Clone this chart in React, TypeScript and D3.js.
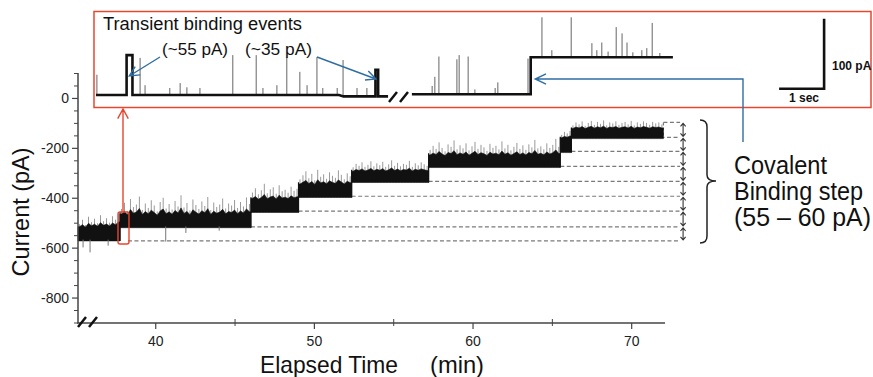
import * as d3 from "d3";

// main trace: current steps (min, pA)
const stepStart = [35.1, 37.75, 46.0, 49.0, 52.35, 57.2, 65.5, 66.2];
const stepEnd = [37.75, 46.0, 49.0, 52.35, 57.2, 65.5, 66.2, 72.0];
const stepBase = [-566, -513, -452, -392, -332, -272, -212, -156];
const stepCore = [60, 58, 56, 56, 46, 52, 58, 40];
const stepPeaks = [
  [62, 80, 58, 92, 70, 84, 66, 98, 74, 86, 68, 94, 80, 104],
  [70, 95, 62, 110, 78, 88, 120, 66, 92, 74, 105, 84, 60, 98, 115, 72, 90, 68, 102, 80, 125, 76, 94, 64, 108, 86, 70, 100, 82, 118, 66, 96, 78, 88, 112, 72, 92, 84, 106, 74, 98, 80, 116, 90],
  [75, 92, 68, 84, 110, 72, 88, 96, 70, 104, 80, 86, 74, 98, 82, 90],
  [68, 84, 100, 72, 90, 64, 106, 78, 88, 70, 96, 82, 74, 104, 86, 68, 92, 80],
  [56, 70, 62, 76, 58, 66, 80, 60, 72, 64, 78, 58, 68, 84, 62, 74, 60, 70, 66, 82, 58, 72, 64, 76, 68, 62],
  [66, 82, 70, 96, 74, 60, 88, 78, 104, 68, 84, 72, 92, 64, 80, 98, 70, 86, 76, 62, 90, 74, 82, 68, 100, 72, 86, 64, 78, 94, 70, 84, 66, 88, 76, 106, 72, 80, 68, 92, 74, 86, 110, 78],
  [66, 78, 72, 82],
  [48, 60, 52, 64, 46, 58, 66, 50, 62, 54, 68, 48, 60, 56, 64, 50, 58, 62, 52, 66, 48, 60, 54, 64, 58, 50, 62, 56, 60, 52],
];
const dips: [number, number][] = [[35.42, -597], [35.86, -617], [37.0, -590], [40.63, -574], [41.9, -539], [44.0, -530]];

// dashed guide levels
const guideLevels = [-571, -515, -452, -392, -332, -272, -212, -156, -96];
const guideStart = [38.25, 46.0, 49.0, 52.35, 57.2, 65.5, 66.2, 69.77, 72.0];
const guideEnd = 73.05;
const arrowTime = 73.24;

const xTicks = [40, 50, 60, 70];
const xMinor = [45, 55, 65];
const yTicks = [0, -200, -400, -600, -800];
const yMinor = [100, 50, -50, -100, -150, -250, -300, -350, -450, -500, -550, -650, -700, -750, -850, -900];

// inset (s, pA relative to open level)
const insetTraceA: [number, number][] = [[0, 0], [0.68, 0], [0.68, 57], [0.81, 57], [0.81, 0], [5.4, 0], [5.5, -2], [6.21, -2], [6.21, 36], [6.27, 36], [6.27, -2], [6.49, -2]];
const insetTraceB: [number, number][] = [[7.02, 1], [9.66, 1], [9.66, 54], [12.82, 54]];
const insetSpikesA: [number, number][] = [[0.02, 29], [0.98, 53], [1.09, 14], [1.64, 10], [1.87, 17], [2.02, 11], [2.31, 10], [3.04, 57], [3.56, 57], [3.71, 10], [4.02, 14], [4.24, 54], [4.53, 33], [4.69, 14], [4.91, 54], [5.04, 10], [5.36, 10], [5.49, 50], [5.8, 10], [6.02, 10]];
const insetSpikesB: [number, number][] = [[7.47, 12], [7.53, 25], [7.62, 54], [8.02, 50], [8.07, 56], [8.27, 54], [8.42, 7], [8.87, 9], [8.93, 17], [9.6, 51]];
const insetSpikesC: [number, number][] = [[9.91, 57], [10.13, 10], [10.56, 57], [11.02, 20], [11.13, 10], [11.24, 21], [11.38, 8], [11.56, 43], [11.69, 34], [11.8, 21], [11.93, 7], [12.13, 10], [12.24, 13], [12.36, 49], [12.53, 6]];

const W = 873;
const H = 377;
const FONT = "'Liberation Sans', Arial, sans-serif";
const RED = "#e8472f";
const BLUE = "#2f6ea3";

function openHead(x: number, y: number, angle: number, len: number, spread: number) {
  const a1 = angle + Math.PI - spread;
  const a2 = angle + Math.PI + spread;
  return `M${x + len * Math.cos(a1)},${y + len * Math.sin(a1)}L${x},${y}L${x + len * Math.cos(a2)},${y + len * Math.sin(a2)}`;
}

function arrowPath(x1: number, y1: number, x2: number, y2: number, len = 10, spread = 0.45) {
  const ang = Math.atan2(y2 - y1, x2 - x1);
  return `M${x1},${y1}L${x2},${y2}` + openHead(x2, y2, ang, len, spread);
}

export default function App() {
  const x = d3.scaleLinear().domain([35.1, 72.1]).range([78, 665]);
  const y = d3.scaleLinear().domain([102, -900]).range([73, 323]);
  const xi = d3.scaleLinear().domain([0, 1]).range([96, 141]);
  const yi = d3.scaleLinear().domain([0, 100]).range([95, 25]);

  const segs = stepStart.map((s, k) => {
    const peaks = stepPeaks[k];
    const n = peaks.length;
    const dt = (stepEnd[k] - s) / n;
    const mean = d3.mean(peaks) as number;
    const pts = peaks.map((p, i) => ({
      tm: s + (i + 0.5) * dt,
      peak: stepBase[k] + p,
      top: stepBase[k] + stepCore[k] + (p - mean) * 0.45,
    }));
    const area = d3
      .area<{ t: number; v: number }>()
      .x((d) => x(d.t))
      .y0(y(stepBase[k] - 5))
      .y1((d) => y(d.v));
    const areaPts = [{ t: s, v: pts[0].top }, ...pts.map((p) => ({ t: p.tm, v: p.top })), { t: stepEnd[k], v: pts[n - 1].top }];
    return { k, pts, d: area(areaPts) as string };
  });

  const insetLine = d3
    .line<[number, number]>()
    .x((d) => xi(d[0]))
    .y((d) => yi(d[1]));

  const spikeLines = (sp: [number, number][], base: number) =>
    sp.map((s, i) => (
      <line key={i} x1={xi(s[0])} x2={xi(s[0])} y1={yi(base)} y2={yi(base + s[1])} stroke="#555" strokeWidth={0.9} />
    ));

  const tickText = { fontFamily: FONT, fontSize: 14, fill: "#222" } as const;

  return (
    <svg width={W} height={H} style={{ position: "absolute", left: 0, top: 0, background: "#fff" }}>
      <rect width={W} height={H} fill="#fff" />

      {/* dashed guides */}
      {guideLevels.map((lv, i) => (
        <line key={i} x1={x(guideStart[i])} x2={x(guideEnd)} y1={y(lv)} y2={y(lv)} stroke="#7a7a7a" strokeWidth={1.2} strokeDasharray="4,2.5" />
      ))}
      <line x1={x(guideStart[8])} x2={x(guideStart[8])} y1={y(guideLevels[8])} y2={y(guideLevels[7])} stroke="#7a7a7a" strokeWidth={1.2} strokeDasharray="3,2" />
      {guideLevels.slice(1).map((lv, i) => {
        const yt = y(lv) + 1;
        const yb = y(guideLevels[i]) - 1;
        const xa = x(arrowTime);
        return (
          <path key={i} d={`M${xa},${yt}L${xa},${yb}` + openHead(xa, yt, -Math.PI / 2, 4, 0.7) + openHead(xa, yb, Math.PI / 2, 4, 0.7)} fill="none" stroke="#333" strokeWidth={1.1} />
        );
      })}

      {/* main trace */}
      {segs.map((sg) => (
        <g key={sg.k}>
          {sg.pts.map((p, i) => (
            <line key={i} x1={x(p.tm)} x2={x(p.tm)} y1={y(stepBase[sg.k])} y2={y(p.peak)} stroke="#999" strokeWidth={1} />
          ))}
          <path d={sg.d} fill="#111" stroke="#111" strokeWidth={0.6} />
        </g>
      ))}
      {stepStart.slice(1).map((t, i) => (
        <line key={i} x1={x(t)} x2={x(t)} y1={y(stepBase[i] - 5)} y2={y(stepBase[i + 1] + stepCore[i + 1])} stroke="#111" strokeWidth={1.2} />
      ))}
      {dips.map((d, i) => {
        const k = stepStart.findIndex((s, j) => d[0] >= s && d[0] < stepEnd[j]);
        return <line key={i} x1={x(d[0])} x2={x(d[0])} y1={y(stepBase[k])} y2={y(d[1])} stroke="#777" strokeWidth={1} />;
      })}

      {/* axes */}
      <line x1={78} x2={78} y1={y(102)} y2={y(-900)} stroke="#444" strokeWidth={1.5} />
      <line x1={77} x2={x(72.1)} y1={y(-900)} y2={y(-900)} stroke="#444" strokeWidth={1.5} />
      {yTicks.map((v) => (
        <g key={v}>
          <line x1={72} x2={78} y1={y(v)} y2={y(v)} stroke="#444" strokeWidth={1.2} />
          <text x={69} y={y(v)} dy="0.35em" textAnchor="end" {...tickText}>
            {v}
          </text>
        </g>
      ))}
      {yMinor.map((v) => (
        <line key={v} x1={74} x2={78} y1={y(v)} y2={y(v)} stroke="#444" strokeWidth={1} />
      ))}
      {xTicks.map((v) => (
        <g key={v}>
          <line x1={x(v)} x2={x(v)} y1={y(-900)} y2={y(-900) + 6} stroke="#444" strokeWidth={1.2} />
          <text x={x(v)} y={346} textAnchor="middle" {...tickText}>
            {v}
          </text>
        </g>
      ))}
      {xMinor.map((v) => (
        <line key={v} x1={x(v)} x2={x(v)} y1={y(-900) - 4} y2={y(-900) + 3} stroke="#444" strokeWidth={1} />
      ))}
      <path d="M78,327L86,317M89,327L97,317" stroke="#111" strokeWidth={2.5} fill="none" />

      <text x={0} y={0} transform="translate(29,212) rotate(-90)" textAnchor="middle" fontFamily={FONT} fontSize={24} fill="#111" textLength={129} lengthAdjust="spacingAndGlyphs">
        Current (pA)
      </text>
      <text x={260} y={373} fontFamily={FONT} fontSize={24} fill="#111" textLength={138} lengthAdjust="spacingAndGlyphs">
        Elapsed Time
      </text>
      <text x={430} y={373} fontFamily={FONT} fontSize={24} fill="#111" textLength={54} lengthAdjust="spacingAndGlyphs">
        (min)
      </text>

      {/* red marker + arrow */}
      <rect x={118} y={212} width={11} height={32} rx={2} fill="none" stroke={RED} strokeWidth={1.4} />
      <path d={arrowPath(123, 212, 123, 109, 11, 0.5)} fill="none" stroke={RED} strokeWidth={1.4} />

      {/* brace + labels */}
      <path d="M700,120Q707,120 707,127L707,175Q707,181 716,181Q707,181 707,187L707,236Q707,243 700,243" fill="none" stroke="#222" strokeWidth={1.5} />
      <text x={734} y={174} fontFamily={FONT} fontSize={25} fill="#111" textLength={93} lengthAdjust="spacingAndGlyphs">
        Covalent
      </text>
      <text x={734} y={200} fontFamily={FONT} fontSize={25} fill="#111" textLength={129} lengthAdjust="spacingAndGlyphs">
        Binding step
      </text>
      <text x={734} y={226} fontFamily={FONT} fontSize={25} fill="#111" textLength={137} lengthAdjust="spacingAndGlyphs">
        (55 – 60 pA)
      </text>

      {/* inset */}
      <rect x={94} y={11.5} width={777} height={96} fill="none" stroke={RED} strokeWidth={1.5} />
      {spikeLines(insetSpikesA, 0)}
      {spikeLines(insetSpikesB, 1)}
      {spikeLines(insetSpikesC, 54)}
      <path d={insetLine(insetTraceA) as string} fill="none" stroke="#111" strokeWidth={2.6} />
      <path d={insetLine(insetTraceB) as string} fill="none" stroke="#111" strokeWidth={2.6} />
      <path d="M389,102L397,92M400,102L408,92" stroke="#111" strokeWidth={2.5} fill="none" />

      <text x={103} y={30} fontFamily={FONT} fontSize={17.5} fill="#111" textLength={199} lengthAdjust="spacingAndGlyphs">
        Transient binding events
      </text>
      <text x={162} y={55} fontFamily={FONT} fontSize={17} fill="#111" textLength={66} lengthAdjust="spacingAndGlyphs">
        (~55 pA)
      </text>
      <text x={245} y={55} fontFamily={FONT} fontSize={17} fill="#111" textLength={67} lengthAdjust="spacingAndGlyphs">
        (~35 pA)
      </text>
      <path d={arrowPath(160, 57, xi(0.74), 76, 11, 0.45)} fill="none" stroke={BLUE} strokeWidth={1.4} />
      <path d={arrowPath(317, 57, xi(6.22), 79, 11, 0.45)} fill="none" stroke={BLUE} strokeWidth={1.4} />
      <path d={`M743,142L743,79L${xi(9.76)},79` + openHead(xi(9.76), 79, Math.PI, 12, 0.45)} fill="none" stroke={BLUE} strokeWidth={1.4} />

      {/* scale bar */}
      <path d={`M${xi(15.18)},${yi(9)}L${xi(16.18)},${yi(9)}L${xi(16.18)},${yi(109)}`} fill="none" stroke="#111" strokeWidth={2.6} />
      <text x={832} y={70} fontFamily={FONT} fontSize={12} fontWeight="bold" fill="#111">
        100 pA
      </text>
      <text x={789} y={102} fontFamily={FONT} fontSize={12} fontWeight="bold" fill="#111">
        1 sec
      </text>
    </svg>
  );
}
